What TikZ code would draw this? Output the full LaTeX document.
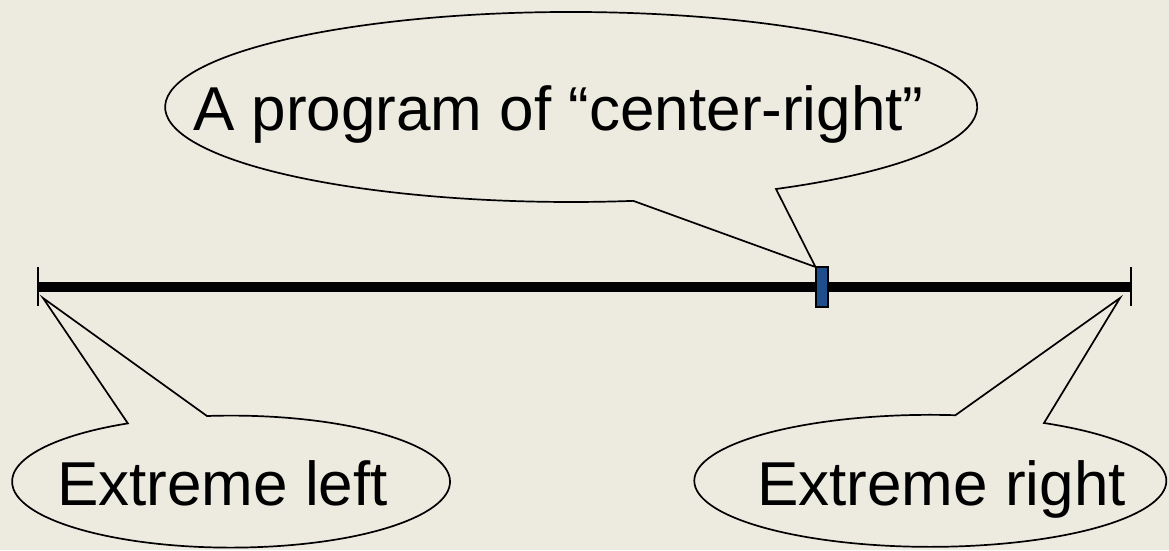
\documentclass[tikz,border=0pt]{standalone}
\usepackage{fontspec}
\setmainfont{Liberation Sans}
\definecolor{bg}{RGB}{237,235,224}
\definecolor{mkblue}{RGB}{31,78,140}
\begin{document}
\begin{tikzpicture}[x=1pt,y=-1pt,
  callout/.style={draw=black, line width=1.7pt, fill=bg, line join=miter},
  lbl/.style={inner sep=0pt, anchor=base west, font=\fontsize{62}{74}\selectfont},
  axisline/.style={line width=10pt},
  tickmark/.style={line width=2.6pt},
  marker/.style={draw=black, line width=1.5pt, fill=mkblue, minimum width=12pt, minimum height=40pt, inner sep=0pt}]
\fill[bg] (0,0) rectangle (1169,550);
\useasboundingbox (0,0) rectangle (1169,550);

% axis ends and marker
\coordinate (L) at (38,287);
\coordinate (R) at (1131,287);
\coordinate (tipL) at (43,298);
\coordinate (tipR) at (1120,298);

% callouts
\draw[callout] (776,189) arc[start angle=59.7, end angle=-278.8, x radius=406, y radius=95]
  -- (815.5,267) -- cycle;
\draw[callout] (207,416) arc[start angle=-96.3, end angle=241.9, x radius=219, y radius=66]
  -- (tipL) -- cycle;
\draw[callout] (1044,423) arc[start angle=-61.2, end angle=276.1, x radius=236, y radius=66]
  -- (tipR) -- cycle;

% axis
\draw[axisline] (L) -- (R);
\draw[tickmark] ([yshift=20pt]L) -- ([yshift=-19pt]L);
\draw[tickmark] ([yshift=20pt]R) -- ([yshift=-19pt]R);
\node[marker] (mk) at (822,287) {};

% labels
\node[lbl] (top) at (193,130) {A program of “center-right”};
\node[lbl] (left) at (57,505) {Extreme left};
\node[lbl] (right) at (757,505) {Extreme right};
\end{tikzpicture}
\end{document}
